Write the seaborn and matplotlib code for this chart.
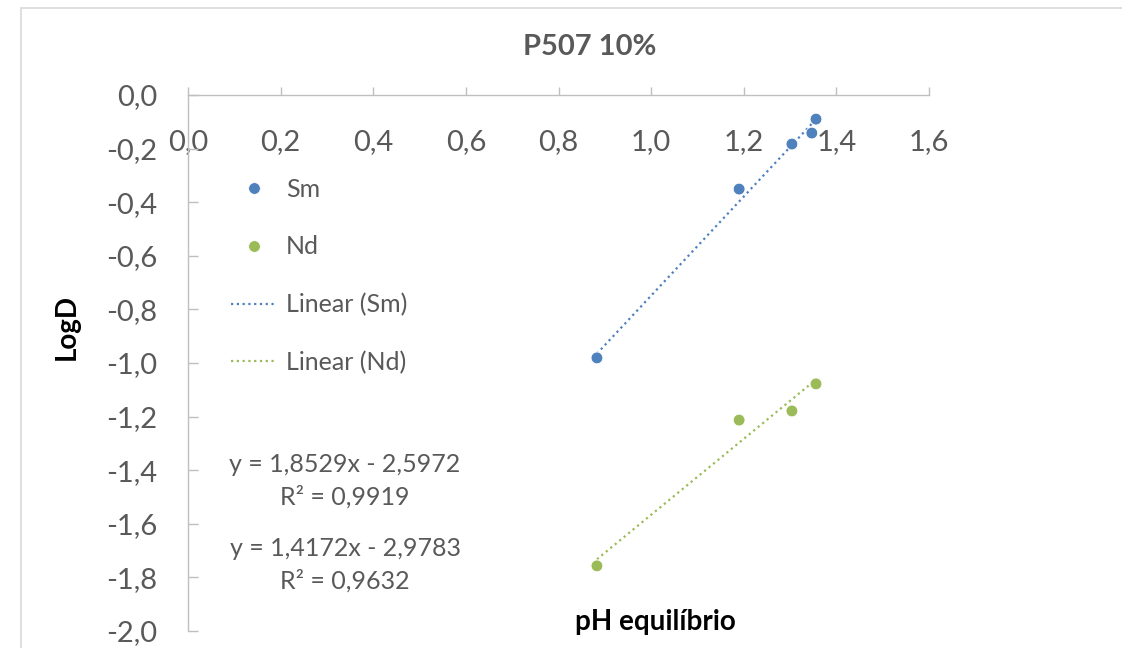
import numpy as np
import pandas as pd
import matplotlib
matplotlib.use("Agg")
import matplotlib.pyplot as plt
from matplotlib.patches import Rectangle
from matplotlib.ticker import FuncFormatter
import seaborn as sns

# pH equilibrio vs LogD
sm_ph = [0.883, 1.190, 1.304, 1.347, 1.356]
sm_logd = [-0.981, -0.351, -0.183, -0.142, -0.090]
nd_ph = [0.883, 1.190, 1.304, 1.356]
nd_logd = [-1.757, -1.213, -1.179, -1.078]

eq_sm = "y = 1,8529x - 2,5972\nR² = 0,9919"
eq_nd = "y = 1,4172x - 2,9783\nR² = 0,9632"

SM_COLOR = "#4F81BD"
ND_COLOR = "#9BBB59"
TEXT = "#595959"
AXIS = "#BFBFBF"

df = pd.DataFrame({
    "pH": sm_ph + nd_ph,
    "LogD": sm_logd + nd_logd,
    "Metal": ["Sm"] * len(sm_ph) + ["Nd"] * len(nd_ph),
})

sns.set_style("white")
plt.rcParams["font.family"] = ["Lato", "DejaVu Sans"]

W, H = 1122, 648
fig = plt.figure(figsize=(W / 100, H / 100), dpi=100)
ax = fig.add_axes([188 / W, 1 - 631 / H, (929 - 188) / W, (631 - 95) / H])

# chart area border (runs off right/bottom in the reference)
fig.patches.append(Rectangle((21 / W, -0.1), 1.2, 1 - 8 / H + 0.1,
                             transform=fig.transFigure, fill=False,
                             edgecolor="#D9D9D9", linewidth=1.2))

sns.scatterplot(data=df, x="pH", y="LogD", hue="Metal",
                palette={"Sm": SM_COLOR, "Nd": ND_COLOR},
                s=72, edgecolor="white", linewidth=0.6, ax=ax, zorder=3)

dot = (0, (1, 1.6))
sns.regplot(data=df[df.Metal == "Sm"], x="pH", y="LogD", scatter=False, ci=None,
            color=SM_COLOR, label="Linear (Sm)",
            line_kws=dict(linestyle=dot, linewidth=1.6), ax=ax)
sns.regplot(data=df[df.Metal == "Nd"], x="pH", y="LogD", scatter=False, ci=None,
            color=ND_COLOR, label="Linear (Nd)",
            line_kws=dict(linestyle=dot, linewidth=1.6), ax=ax)

ax.set_xlim(0, 1.6)
ax.set_ylim(-2.0, 0.0)
ax.set_xticks(np.arange(0, 1.61, 0.2))
ax.set_yticks(np.arange(-2.0, 0.01, 0.2))
comma = FuncFormatter(lambda v, p: f"{v:.1f}".replace(".", ",").replace("-0,0", "0,0"))
ax.xaxis.set_major_formatter(comma)
ax.yaxis.set_major_formatter(comma)

for side in ["right", "bottom"]:
    ax.spines[side].set_visible(False)
for side in ["left", "top"]:
    ax.spines[side].set_color(AXIS)
    ax.spines[side].set_linewidth(1.0)

ax.tick_params(axis="x", top=True, bottom=False, labeltop=True, labelbottom=False,
               direction="out", length=6, width=1, color=AXIS, pad=-49,
               labelsize=21, labelcolor=TEXT)
ax.tick_params(axis="y", left=True, direction="in", length=7, width=1, color=AXIS,
               pad=22, labelsize=21, labelcolor=TEXT)
ax.grid(False)

ax.set_xlabel("pH equilíbrio", fontsize=20, fontweight="bold", color="black")
ax.xaxis.set_label_coords((655 - 188) / 741, (631 - 622) / 536)
ax.xaxis.label.set_va("center")
ax.set_ylabel("LogD", fontsize=20, fontweight="bold", color="black")
ax.yaxis.set_label_coords((67 - 188) / 741, (631 - 327) / 536)
ax.yaxis.label.set_va("center")

fig.text(590 / W, 1 - 47 / H, "P507 10%", ha="center", va="center",
         fontsize=21, fontweight="bold", color=TEXT)

fig.text(345 / W, 1 - 481 / H, eq_sm, ha="center", va="center",
         fontsize=18, color=TEXT, linespacing=1.45)
fig.text(345 / W, 1 - 565 / H, eq_nd, ha="center", va="center",
         fontsize=18, color=TEXT, linespacing=1.45)

handles, labels = ax.get_legend_handles_labels()
order = ["Sm", "Nd", "Linear (Sm)", "Linear (Nd)"]
hmap = dict(zip(labels, handles))
leg = ax.legend([hmap[k] for k in order], order, loc="upper left",
                bbox_to_anchor=(231 / W, 1 - 178 / H), bbox_transform=fig.transFigure,
                frameon=False, fontsize=18, handlelength=1.8, handletextpad=0.4,
                labelspacing=1.38, borderpad=0, borderaxespad=0)
for t in leg.get_texts():
    t.set_color(TEXT)

fig.savefig("out.png", dpi=100)
